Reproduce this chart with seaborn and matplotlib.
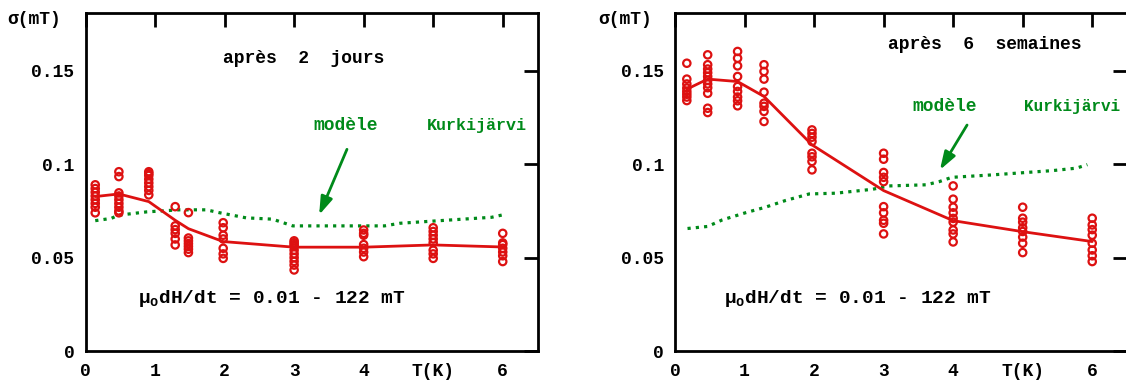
import matplotlib
matplotlib.use("Agg")
from matplotlib import pyplot as plt
import numpy as np
import pandas as pd
import seaborn as sns

# data

# apres 2 jours : measured sigma (mT) per temperature
pts_2j = {
    0.14: [0.089, 0.087, 0.085, 0.083, 0.081, 0.079, 0.077, 0.074],
    0.48: [0.096, 0.0934, 0.0847, 0.083, 0.081, 0.079, 0.077, 0.075, 0.074],
    0.91: [0.096, 0.095, 0.094, 0.092, 0.090, 0.088, 0.086, 0.0836],
    1.29: [0.0773, 0.067, 0.065, 0.063, 0.060, 0.0568],
    1.48: [0.0741, 0.0605, 0.059, 0.0575, 0.056, 0.0545, 0.0527],
    1.98: [0.0687, 0.066, 0.062, 0.060, 0.055, 0.052, 0.0496],
    3.0: [0.059, 0.058, 0.057, 0.056, 0.054, 0.052, 0.050, 0.048, 0.046, 0.0434],
    4.0: [0.0648, 0.063, 0.062, 0.057, 0.055, 0.053, 0.0505],
    5.0: [0.066, 0.064, 0.062, 0.060, 0.058, 0.054, 0.052, 0.0496],
    6.0: [0.063, 0.0579, 0.057, 0.055, 0.053, 0.051, 0.0479],
}
mean_T_2j = [0.14, 0.48, 0.91, 1.29, 1.48, 1.98, 3.0, 4.0, 5.0, 6.0]
mean_s_2j = [0.0827, 0.0841, 0.080, 0.070, 0.0655, 0.0586, 0.0556, 0.0556, 0.0568, 0.0557]
kurk_T_2j = [0.14, 0.37, 0.47, 0.88, 1.35, 1.74, 1.92, 2.31, 2.69, 2.98, 4.3, 4.52, 5.26, 5.84, 6.0]
kurk_s_2j = [0.0698, 0.071, 0.0727, 0.0745, 0.0756, 0.0756, 0.0741, 0.0713, 0.0706, 0.067,
             0.067, 0.0684, 0.0702, 0.0716, 0.0729]

# apres 6 semaines
pts_6s = {
    0.17: [0.1541, 0.1456, 0.143, 0.1408, 0.139, 0.1375, 0.136, 0.1341],
    0.47: [0.1586, 0.1533, 0.151, 0.149, 0.147, 0.145, 0.143, 0.141, 0.138, 0.130, 0.1277],
    0.9: [0.1604, 0.1568, 0.1527, 0.147, 0.1416, 0.139, 0.136, 0.134, 0.1313],
    1.28: [0.1533, 0.1497, 0.1456, 0.1386, 0.1327, 0.131, 0.1283, 0.1229],
    1.97: [0.1184, 0.1165, 0.1145, 0.1122, 0.1059, 0.104, 0.1015, 0.097],
    3.0: [0.1059, 0.1027, 0.0956, 0.093, 0.0907, 0.0773, 0.074, 0.070, 0.0684, 0.0627],
    4.0: [0.0884, 0.0813, 0.077, 0.074, 0.071, 0.069, 0.0648, 0.0627, 0.0584],
    5.0: [0.077, 0.0711, 0.069, 0.066, 0.064, 0.061, 0.0577, 0.0527],
    6.0: [0.0711, 0.0675, 0.065, 0.062, 0.0577, 0.0541, 0.051, 0.0479],
}
mean_T_6s = [0.17, 0.47, 0.9, 1.28, 1.97, 3.0, 4.0, 5.0, 6.0]
mean_s_6s = [0.1402, 0.1456, 0.1443, 0.1363, 0.1104, 0.0859, 0.0698, 0.0639, 0.0586]
kurk_T_6s = [0.18, 0.47, 0.68, 1.02, 1.3, 1.59, 1.93, 2.31, 2.84, 3.08, 3.61, 3.8, 3.98,
             4.56, 5.05, 5.43, 5.77, 5.93]
kurk_s_6s = [0.0656, 0.0667, 0.0702, 0.0741, 0.077, 0.0806, 0.0841, 0.0845, 0.0866, 0.0884,
             0.089, 0.0907, 0.093, 0.0943, 0.0956, 0.0966, 0.0979, 0.0998]

x_ticks = [0, 1, 2, 3, 4, 5, 6]
x_labels = ["0", "1", "2", "3", "4", "T(K)", "6"]
y_ticks = [0, 0.05, 0.1, 0.15]
y_labels = ["0", "0.05", "0.1", "0.15"]

RED = "#dd1111"
GREEN = "#008a1a"

sns.set_theme(style="white")
plt.rcParams["font.family"] = ["Liberation Mono", "DejaVu Sans"]
plt.rcParams["font.weight"] = "bold"
plt.rcParams["mathtext.default"] = "regular"
plt.rcParams["text.color"] = "black"
plt.rcParams["xtick.color"] = "black"
plt.rcParams["ytick.color"] = "black"


def to_frame(pts):
    rows = [(t, v) for t, vals in pts.items() for v in vals]
    return pd.DataFrame(rows, columns=["T", "sigma"])


def draw_panel(ax, pts, mT, ms, kT, ks):
    sns.lineplot(x=kT, y=ks, ax=ax, color=GREEN, lw=2.3, linestyle=(0, (1, 1.6)))
    sns.lineplot(x=mT, y=ms, ax=ax, color=RED, lw=2)
    df = to_frame(pts)
    sns.scatterplot(data=df, x="T", y="sigma", ax=ax, marker="o", s=28,
                    facecolors="none", edgecolor=RED, linewidth=1.6, zorder=3)
    ax.set_xlim(0, 6.5)
    ax.set_ylim(0, 0.181)
    ax.set_xticks(x_ticks)
    ax.set_xticklabels(x_labels)
    ax.set_yticks(y_ticks)
    ax.set_yticklabels(y_labels)
    ax.set_xlabel("")
    ax.set_ylabel("")
    ax.tick_params(direction="in", length=10, width=2, top=True, right=True,
                   labelsize=13, color="black", labelcolor="black")
    ax.tick_params(axis="x", pad=9)
    ax.tick_params(axis="y", pad=8)
    for s in ax.spines.values():
        s.set_linewidth(2)
        s.set_color("black")


fig = plt.figure(figsize=(11.26, 3.85), dpi=100)
ax1 = fig.add_axes([85.5 / 1126, 34 / 385, 452 / 1126, 338 / 385])
ax2 = fig.add_axes([675 / 1126, 34 / 385, 452 / 1126, 338 / 385])

draw_panel(ax1, pts_2j, mean_T_2j, mean_s_2j, kurk_T_2j, kurk_s_2j)
draw_panel(ax2, pts_6s, mean_T_6s, mean_s_6s, kurk_T_6s, kurk_s_6s)

arrow = dict(arrowstyle="-|>,head_length=0.9,head_width=0.3", color=GREEN, lw=2,
             shrinkA=0, shrinkB=0)

# left panel texts
ax1.text(3.14, 0.1565, "après  2  jours", ha="center", va="center", fontsize=13)
ax1.text(3.74, 0.121, "modèle", ha="center", va="center", fontsize=13, color=GREEN)
ax1.text(4.91, 0.121, "Kurkijärvi", ha="left", va="center", fontsize=12, color=GREEN)
ax1.text(0.75, 0.028, "μ$_o$dH/dt = 0.01 - 122 mT", ha="left", va="center", fontsize=14)
ax1.annotate("", xy=(3.36, 0.0729), xytext=(3.76, 0.108), arrowprops=arrow)

# right panel texts
ax2.text(4.45, 0.164, "après  6  semaines", ha="center", va="center", fontsize=13)
ax2.text(3.88, 0.131, "modèle", ha="center", va="center", fontsize=13, color=GREEN)
ax2.text(5.02, 0.131, "Kurkijärvi", ha="left", va="center", fontsize=11.5, color=GREEN,
         clip_on=False)
ax2.text(0.70, 0.028, "μ$_o$dH/dt = 0.01 - 122 mT", ha="left", va="center", fontsize=14)
ax2.annotate("", xy=(3.81, 0.097), xytext=(4.2, 0.121), arrowprops=arrow)

fig.text(7 / 1126, 1 - 20 / 385, "σ(mT)", ha="left", va="center", fontsize=13)
fig.text(598 / 1126, 1 - 20 / 385, "σ(mT)", ha="left", va="center", fontsize=13)

fig.savefig("out.png", dpi=100)
